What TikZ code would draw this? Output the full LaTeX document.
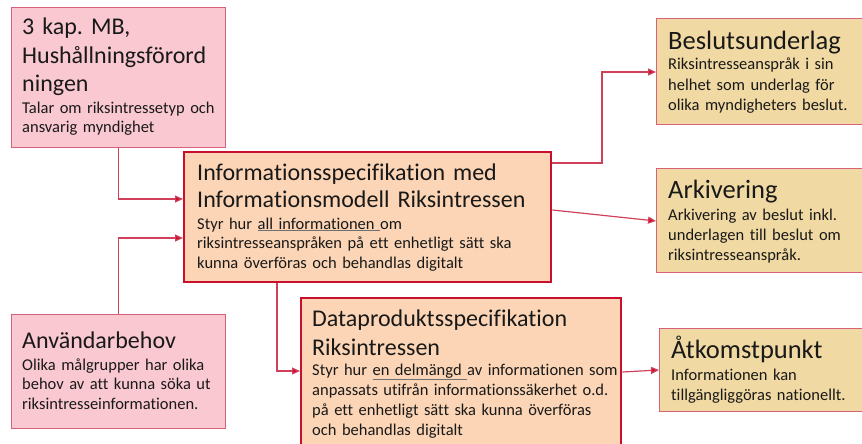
\documentclass[tikz,border=0pt]{standalone}
\usepackage{fontspec}
\setmainfont{Carlito}[Ligatures=NoCommon]
\frenchspacing
\usetikzlibrary{arrows.meta}
\definecolor{pinkfill}{HTML}{F9C8D1}
\definecolor{pinkline}{HTML}{D9607A}
\definecolor{peachfill}{HTML}{FBD5B5}
\definecolor{crimson}{HTML}{C8102E}
\definecolor{goldfill}{HTML}{F0D9A2}
\definecolor{conn}{HTML}{D0405A}
\definecolor{ulgray}{HTML}{707070}
\newcommand{\hd}{\fontsize{24}{28.3}\selectfont}
\newcommand{\hdg}{\fontsize{26.5}{30}\selectfont}
\newcommand{\bd}{\fontsize{16.5}{19.8}\selectfont}
\newcommand{\ul}[1]{\underline{#1}}
\tikzset{
  x=1pt, y=-1pt,
  box/.style={draw, line width=1.4pt, anchor=north west, inner sep=0pt},
  pinkbox/.style={box, fill=pinkfill, draw=pinkline},
  peachbox/.style={box, fill=peachfill, draw=crimson, line width=2.4pt},
  goldbox/.style={box, fill=goldfill, draw=pinkline},
  head/.style={anchor=base west, inner sep=0pt, align=left, text width=500pt, font=\frenchspacing\hd, text=black!90},
  body/.style={anchor=base west, inner sep=0pt, align=left, text width=500pt, font=\frenchspacing\bd, text=black!90},
  arr/.style={draw=conn, line width=1.2pt, -{Triangle[length=8pt,width=7pt,fill=crimson]}},
}
\begin{document}
\begin{tikzpicture}
\useasboundingbox (0,0) rectangle (862,444);
% boxes
\node[pinkbox, minimum width=214pt, minimum height=140pt] (b1) at (11,7) {};
\node[peachbox, minimum width=367pt, minimum height=130pt] (info) at (183,151) {};
\node[pinkbox, minimum width=214pt, minimum height=114pt] (user) at (11,314) {};
\node[peachbox, minimum width=320pt, minimum height=160pt] (dp) at (300,297) {};
\node[goldbox, minimum width=215pt, minimum height=106pt] (besl) at (656,18) {};
\node[goldbox, minimum width=215pt, minimum height=104pt] (ark) at (656,168) {};
\node[goldbox, minimum width=210pt, minimum height=83pt] (atk) at (659,328) {};
% texts
\node[head] (b1h) at (22,35) {3 kap. MB,\\Hushållningsförord\\ningen};
\node[body] (b1b) at (22,113) {Talar om riksintressetyp och\\ansvarig myndighet};
\node[head, font=\frenchspacing\fontsize{24}{27}\selectfont] (infoh) at (197,180) {Informationsspecifikation med\\Informationsmodell Riksintressen};
\node[body] (infob) at (197,229) {Styr hur {\color{ulgray}\ul{\color{black!90}all informationen }}om\\riksintresseanspråken på ett enhetligt sätt ska\\kunna överföras och behandlas digitalt};
\node[head] (userh) at (22,348) {Användarbehov};
\node[body] (userb) at (22,370) {Olika målgrupper har olika\\behov av att kunna söka ut\\riksintresseinformationen.};
\node[head, font=\frenchspacing\fontsize{24}{29}\selectfont] (dph) at (312,326) {Dataproduktsspecifikation\\Riksintressen};
\node[body, font=\frenchspacing\fontsize{16.5}{20.2}\selectfont] (dpb) at (312,375) {Styr hur {\color{ulgray}\ul{\color{black!90}en delmängd }}av informationen som\\anpassats utifrån informationssäkerhet o.d.\\på ett enhetligt sätt ska kunna överföras\\och behandlas digitalt};
\node[head, font=\hdg] (beslh) at (668,49) {Beslutsunderlag};
\node[body, font=\frenchspacing\fontsize{16.5}{20.3}\selectfont] (beslb) at (668,70) {Riksintresseanspråk i sin\\helhet som underlag för\\olika myndigheters beslut.};
\node[head, font=\hdg] (arkh) at (668,198) {Arkivering};
\node[body, font=\frenchspacing\fontsize{16.5}{20}\selectfont] (arkb) at (668,220) {Arkivering av beslut inkl.\\underlagen till beslut om\\riksintresseanspråk.};
\node[head, font=\hdg] (atkh) at (671,358) {Åtkomstpunkt};
\node[body, font=\frenchspacing\fontsize{16.5}{20}\selectfont] (atkb) at (671,380) {Informationen kan\\tillgängliggöras nationellt.};
% connectors
\draw[arr] (b1.south) |- (info.west |- 0,199);
\draw[arr] (user.north) |- (info.west |- 0,238);
\draw[arr] (info.south -| 277,0) |- (dp.west |- 0,371);
\draw[arr] (info.east |- 0,163) -- (602,163) |- (besl.west |- 0,72);
\draw[arr] (info.east |- 0,210) -- (ark.west |- 0,221);
\draw[arr] (dp.east |- 0,372) -- (atk.west |- 0,370);
\end{tikzpicture}
\end{document}
